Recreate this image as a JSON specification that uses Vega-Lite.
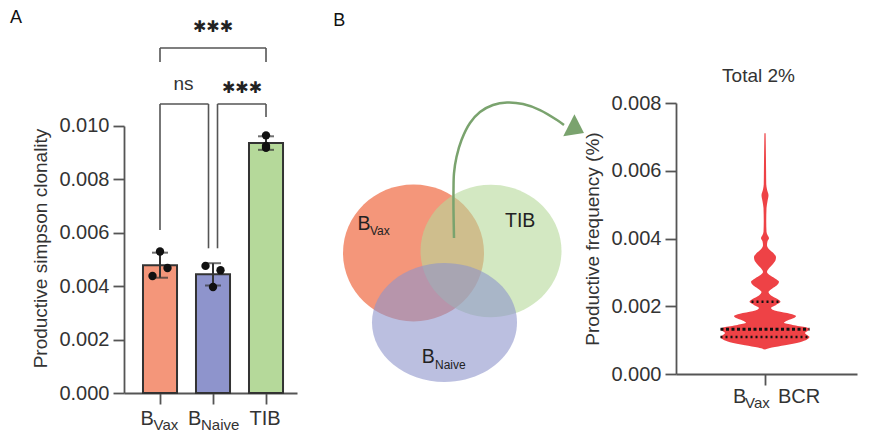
{
  "$schema": "https://vega.github.io/schema/vega-lite/v6.json",
  "background": "white",
  "padding": {"left": 10, "top": 9, "right": 5, "bottom": 5},
  "config": {
    "font": "Liberation Sans",
    "view": {"stroke": null},
    "axis": {"domainColor": "#555", "domainWidth": 1.8, "tickColor": "#555", "tickWidth": 1.8, "tickSize": 11, "labelColor": "#333", "labelFontSize": 20, "labelPadding": 4, "titleColor": "#333", "titleFontSize": 19, "titleFontWeight": "normal", "grid": false},
    "text": {"color": "#333"}
  },
  "datasets": {
    "clonality": [
      {"group": "BVax", "rep": "L", "value": 0.00438},
      {"group": "BVax", "rep": "M", "value": 0.0053},
      {"group": "BVax", "rep": "R", "value": 0.00468},
      {"group": "BNaive", "rep": "L", "value": 0.00476},
      {"group": "BNaive", "rep": "M", "value": 0.00397},
      {"group": "BNaive", "rep": "R", "value": 0.0046},
      {"group": "TIB", "rep": "M", "value": 0.00965},
      {"group": "TIB", "rep": "M", "value": 0.00918},
      {"group": "TIB", "rep": "M", "value": 0.00925}
    ],
    "venn": [
      {"set": "BVax", "X": 3.217, "Y": 4.667},
      {"set": "TIB", "X": 5.8, "Y": 4.733},
      {"set": "BNaive", "X": 4.25, "Y": 2.35}
    ],
    "vennLabels": [
      {"label": "B", "X": 1.35, "Y": 5.433},
      {"label": "TIB", "X": 6.267, "Y": 5.533},
      {"label": "B", "X": 3.49, "Y": 1.0}
    ],
    "vennSubs": [
      {"label": "Vax", "X": 1.767, "Y": 5.267},
      {"label": "Naive", "X": 3.933, "Y": 0.8}
    ],
    "panelLabels": [
      {"label": "A", "X": -10.233, "Y": 12.8},
      {"label": "B", "X": 0.543, "Y": 12.7}
    ],
    "arrow": [
      {"i": 1, "X": 4.567, "Y": 5.167},
      {"i": 2, "X": 4.55, "Y": 6.1},
      {"i": 3, "X": 4.55, "Y": 6.767},
      {"i": 4, "X": 4.567, "Y": 7.333},
      {"i": 5, "X": 4.65, "Y": 7.867},
      {"i": 6, "X": 4.817, "Y": 8.433},
      {"i": 7, "X": 5.1, "Y": 9.0},
      {"i": 8, "X": 5.433, "Y": 9.367},
      {"i": 9, "X": 5.867, "Y": 9.6},
      {"i": 10, "X": 6.333, "Y": 9.683},
      {"i": 11, "X": 6.867, "Y": 9.633},
      {"i": 12, "X": 7.433, "Y": 9.433},
      {"i": 13, "X": 8.0, "Y": 9.1},
      {"i": 14, "X": 8.233, "Y": 8.933}
    ],
    "arrowhead": [{"X": 8.647, "Y": 8.797}],
    "violin": [
      {"freq": 0.00072, "width": 0},
      {"freq": 0.00078, "width": 14},
      {"freq": 0.00085, "width": 40},
      {"freq": 0.00094, "width": 70},
      {"freq": 0.00102, "width": 84},
      {"freq": 0.00109, "width": 89},
      {"freq": 0.00115, "width": 84},
      {"freq": 0.00121, "width": 80},
      {"freq": 0.00127, "width": 85},
      {"freq": 0.00132, "width": 89},
      {"freq": 0.00138, "width": 82},
      {"freq": 0.00145, "width": 55},
      {"freq": 0.00151, "width": 38},
      {"freq": 0.00158, "width": 45},
      {"freq": 0.00165, "width": 58},
      {"freq": 0.00171, "width": 62},
      {"freq": 0.00178, "width": 50},
      {"freq": 0.00185, "width": 25},
      {"freq": 0.00195, "width": 12},
      {"freq": 0.00204, "width": 22},
      {"freq": 0.00213, "width": 31},
      {"freq": 0.00222, "width": 24},
      {"freq": 0.00232, "width": 12},
      {"freq": 0.00242, "width": 7},
      {"freq": 0.00252, "width": 14},
      {"freq": 0.00262, "width": 24},
      {"freq": 0.00272, "width": 28},
      {"freq": 0.00282, "width": 20},
      {"freq": 0.00292, "width": 9},
      {"freq": 0.00301, "width": 4},
      {"freq": 0.00312, "width": 8},
      {"freq": 0.00325, "width": 16},
      {"freq": 0.00336, "width": 21},
      {"freq": 0.00345, "width": 22},
      {"freq": 0.00355, "width": 18},
      {"freq": 0.00368, "width": 8},
      {"freq": 0.0038, "width": 4},
      {"freq": 0.00392, "width": 5},
      {"freq": 0.00401, "width": 8},
      {"freq": 0.0041, "width": 5},
      {"freq": 0.0042, "width": 3},
      {"freq": 0.0045, "width": 2.5},
      {"freq": 0.0049, "width": 3},
      {"freq": 0.0051, "width": 5},
      {"freq": 0.00528, "width": 7},
      {"freq": 0.00545, "width": 4},
      {"freq": 0.0056, "width": 2.5},
      {"freq": 0.006, "width": 2.2},
      {"freq": 0.0065, "width": 1.8},
      {"freq": 0.00711, "width": 1.2}
    ],
    "quartiles": [
      {"stat": "median", "freq": 0.00132, "lo": 0, "hi": 89},
      {"stat": "q1", "freq": 0.00109, "lo": 0, "hi": 89},
      {"stat": "q3", "freq": 0.00213, "lo": 31, "hi": 58}
    ]
  },
  "bounds": "flush",
  "align": "none",
  "spacing": 20,
  "hconcat": [
    {
      "width": 173,
      "height": 290,
      "layer": [
        {
          "data": {"name": "clonality"},
          "mark": {"type": "bar", "stroke": "#333", "strokeWidth": 2},
          "encoding": {
            "x": {"field": "group", "type": "nominal", "scale": {"domain": ["BVax", "BNaive", "TIB"], "paddingInner": 0.358, "paddingOuter": 0.311, "align": 0.576}, "axis": {"labels": false, "title": null, "ticks": true}, "title": null},
            "y": {"aggregate": "mean", "field": "value", "type": "quantitative", "scale": {"domain": [0, 0.010861], "nice": false}, "axis": {"values": [0, 0.002, 0.004, 0.006, 0.008, 0.01], "format": ".3f", "titlePadding": 8, "domainDash": [267, 60]}, "title": "Productive simpson clonality"},
            "color": {"field": "group", "type": "nominal", "scale": {"domain": ["BVax", "BNaive", "TIB"], "range": ["#F4967A", "#8E94CC", "#B5D99A"]}, "legend": null}
          }
        },
        {
          "data": {"name": "clonality"},
          "mark": {"type": "errorbar", "extent": "stdev", "color": "#333", "ticks": {"size": 16, "thickness": 2, "color": "#333"}, "rule": {"strokeWidth": 2, "color": "#333"}},
          "encoding": {
            "x": {"field": "group", "type": "nominal", "title": null},
            "y": {"field": "value", "type": "quantitative", "title": "Productive simpson clonality"}
          }
        },
        {
          "data": {"name": "clonality"},
          "transform": [{"filter": "datum.rep === 'L'"}],
          "mark": {"type": "point", "filled": true, "size": 70, "color": "#111", "opacity": 1, "xOffset": -7.5},
          "encoding": {
            "x": {"field": "group", "type": "nominal", "title": null},
            "y": {"field": "value", "type": "quantitative", "title": "Productive simpson clonality"}
          }
        },
        {
          "data": {"name": "clonality"},
          "transform": [{"filter": "datum.rep === 'M'"}],
          "mark": {"type": "point", "filled": true, "size": 70, "color": "#111", "opacity": 1},
          "encoding": {
            "x": {"field": "group", "type": "nominal", "title": null},
            "y": {"field": "value", "type": "quantitative", "title": "Productive simpson clonality"}
          }
        },
        {
          "data": {"name": "clonality"},
          "transform": [{"filter": "datum.rep === 'R'"}],
          "mark": {"type": "point", "filled": true, "size": 70, "color": "#111", "opacity": 1, "xOffset": 7.5},
          "encoding": {
            "x": {"field": "group", "type": "nominal", "title": null},
            "y": {"field": "value", "type": "quantitative", "title": "Productive simpson clonality"}
          }
        },
        {
          "data": {"values": [{}]},
          "mark": {"type": "rule", "color": "#555", "strokeWidth": 1.6},
          "encoding": {"x": {"datum": "BVax", "title": null}, "x2": {"datum": "TIB"}, "y": {"datum": 0.01292, "title": "Productive simpson clonality"}}
        },
        {
          "data": {"values": [{}]},
          "mark": {"type": "rule", "color": "#555", "strokeWidth": 1.6},
          "encoding": {"x": {"datum": "BVax", "title": null}, "y": {"datum": 0.01292, "title": "Productive simpson clonality"}, "y2": {"datum": 0.0124}}
        },
        {
          "data": {"values": [{}]},
          "mark": {"type": "rule", "color": "#555", "strokeWidth": 1.6},
          "encoding": {"x": {"datum": "TIB", "title": null}, "y": {"datum": 0.01292, "title": "Productive simpson clonality"}, "y2": {"datum": 0.0124}}
        },
        {
          "data": {"values": [{}]},
          "mark": {"type": "rule", "color": "#555", "strokeWidth": 1.6, "x2Offset": -4.5},
          "encoding": {"x": {"datum": "BVax", "title": null}, "x2": {"datum": "BNaive"}, "y": {"datum": 0.010824, "title": "Productive simpson clonality"}}
        },
        {
          "data": {"values": [{}]},
          "mark": {"type": "rule", "color": "#555", "strokeWidth": 1.6},
          "encoding": {"x": {"datum": "BVax", "title": null}, "y": {"datum": 0.010824, "title": "Productive simpson clonality"}, "y2": {"datum": 0.006105}}
        },
        {
          "data": {"values": [{}]},
          "mark": {"type": "rule", "color": "#555", "strokeWidth": 1.6, "xOffset": -4.5},
          "encoding": {"x": {"datum": "BNaive", "title": null}, "y": {"datum": 0.010824, "title": "Productive simpson clonality"}, "y2": {"datum": 0.00542}}
        },
        {
          "data": {"values": [{}]},
          "mark": {"type": "rule", "color": "#555", "strokeWidth": 1.6, "xOffset": 4.5},
          "encoding": {"x": {"datum": "BNaive", "title": null}, "x2": {"datum": "TIB"}, "y": {"datum": 0.010824, "title": "Productive simpson clonality"}}
        },
        {
          "data": {"values": [{}]},
          "mark": {"type": "rule", "color": "#555", "strokeWidth": 1.6, "xOffset": 4.5},
          "encoding": {"x": {"datum": "BNaive", "title": null}, "y": {"datum": 0.010824, "title": "Productive simpson clonality"}, "y2": {"datum": 0.00542}}
        },
        {
          "data": {"values": [{}]},
          "mark": {"type": "rule", "color": "#555", "strokeWidth": 1.6},
          "encoding": {"x": {"datum": "TIB", "title": null}, "y": {"datum": 0.010824, "title": "Productive simpson clonality"}, "y2": {"datum": 0.010337}}
        },
        {
          "data": {"values": [{"label": "✱✱✱"}]},
          "mark": {"type": "text", "font": "DejaVu Sans", "fontSize": 16, "align": "center", "baseline": "middle", "color": "#222"},
          "encoding": {"text": {"field": "label"}, "x": {"datum": "BNaive", "title": null}, "y": {"datum": 0.013719, "title": "Productive simpson clonality"}}
        },
        {
          "data": {"values": [{"label": "✱✱✱"}]},
          "mark": {"type": "text", "font": "DejaVu Sans", "fontSize": 16, "align": "center", "baseline": "middle", "color": "#222", "dx": 29},
          "encoding": {"text": {"field": "label"}, "x": {"datum": "BNaive", "title": null}, "y": {"datum": 0.011423, "title": "Productive simpson clonality"}}
        },
        {
          "data": {"values": [{"label": "ns"}]},
          "mark": {"type": "text", "fontSize": 19, "align": "center", "baseline": "alphabetic", "color": "#333", "dx": -29.5},
          "encoding": {"text": {"field": "label"}, "x": {"datum": "BNaive", "title": null}, "y": {"datum": 0.011348, "title": "Productive simpson clonality"}}
        },
        {
          "data": {"values": [{"label": "B"}]},
          "mark": {"type": "text", "fontSize": 20, "align": "left", "baseline": "alphabetic", "dx": -19.5},
          "encoding": {"text": {"field": "label"}, "x": {"datum": "BVax", "title": null}, "y": {"datum": -0.0011985, "title": "Productive simpson clonality"}}
        },
        {
          "data": {"values": [{"label": "Vax"}]},
          "mark": {"type": "text", "fontSize": 15, "align": "left", "baseline": "alphabetic", "dx": -6.5},
          "encoding": {"text": {"field": "label"}, "x": {"datum": "BVax", "title": null}, "y": {"datum": -0.0013858, "title": "Productive simpson clonality"}}
        },
        {
          "data": {"values": [{"label": "B"}]},
          "mark": {"type": "text", "fontSize": 20, "align": "left", "baseline": "alphabetic", "dx": -25},
          "encoding": {"text": {"field": "label"}, "x": {"datum": "BNaive", "title": null}, "y": {"datum": -0.0011985, "title": "Productive simpson clonality"}}
        },
        {
          "data": {"values": [{"label": "Naive"}]},
          "mark": {"type": "text", "fontSize": 15, "align": "left", "baseline": "alphabetic", "dx": -12},
          "encoding": {"text": {"field": "label"}, "x": {"datum": "BNaive", "title": null}, "y": {"datum": -0.0013858, "title": "Productive simpson clonality"}}
        },
        {
          "data": {"values": [{"label": "TIB"}]},
          "mark": {"type": "text", "fontSize": 20, "align": "center", "baseline": "alphabetic", "dx": -1},
          "encoding": {"text": {"field": "label"}, "x": {"datum": "TIB", "title": null}, "y": {"datum": -0.0011985, "title": "Productive simpson clonality"}}
        }
      ]
    },
    {
      "width": 339,
      "height": 290,
      "encoding": {
        "x": {"field": "X", "type": "quantitative", "scale": {"domain": [0, 11.3], "nice": false, "zero": false}, "axis": null},
        "y": {"field": "Y", "type": "quantitative", "scale": {"domain": [0, 9.667], "nice": false, "zero": false}, "axis": null}
      },
      "layer": [
        {
          "data": {"name": "venn"},
          "transform": [{"filter": "datum.set === 'BVax'"}],
          "mark": {"type": "point", "filled": true, "strokeWidth": 0, "size": 19881, "shape": "M-1,0A1,0.97,0,1,1,1,0A1,0.97,0,1,1,-1,0Z"},
          "encoding": {
            "color": {"field": "set", "type": "nominal", "scale": {"domain": ["BVax", "TIB", "BNaive"], "range": ["#F4967A", "#84C057", "#434DAA"]}, "legend": null},
            "opacity": {"value": 1},
            "fillOpacity": {"value": 1}
          }
        },
        {
          "data": {"name": "venn"},
          "transform": [{"filter": "datum.set === 'TIB'"}],
          "mark": {"type": "point", "filled": true, "strokeWidth": 0, "size": 19881, "shape": "M-1,0A1,0.94,0,1,1,1,0A1,0.94,0,1,1,-1,0Z"},
          "encoding": {
            "color": {"field": "set", "type": "nominal", "legend": null},
            "opacity": {"value": 1},
            "fillOpacity": {"value": 0.6}
          }
        },
        {
          "data": {"name": "venn"},
          "transform": [{"filter": "datum.set === 'BNaive'"}],
          "mark": {"type": "point", "filled": true, "strokeWidth": 0, "size": 21025, "shape": "M-1,0A1,0.82,0,1,1,1,0A1,0.82,0,1,1,-1,0Z"},
          "encoding": {
            "color": {"field": "set", "type": "nominal", "legend": null},
            "opacity": {"value": 1},
            "fillOpacity": {"value": 0.6}
          }
        },
        {
          "data": {"name": "arrow"},
          "mark": {"type": "line", "color": "#7AA36E", "strokeWidth": 2.5, "interpolate": "catmull-rom"},
          "encoding": {"order": {"field": "i", "type": "quantitative"}}
        },
        {
          "data": {"name": "arrowhead"},
          "mark": {"type": "point", "filled": true, "opacity": 1, "color": "#7AA36E", "size": 289, "angle": 27, "shape": "M-1,-1.45L1,0L-1,1.45Z"}
        },
        {
          "data": {"name": "vennLabels"},
          "mark": {"type": "text", "fontSize": 19.5, "align": "left", "baseline": "alphabetic", "color": "#222"},
          "encoding": {"text": {"field": "label"}}
        },
        {
          "data": {"name": "vennSubs"},
          "mark": {"type": "text", "fontSize": 12, "align": "left", "baseline": "alphabetic", "color": "#222"},
          "encoding": {"text": {"field": "label"}}
        },
        {
          "data": {"name": "panelLabels"},
          "mark": {"type": "text", "fontSize": 18, "align": "left", "baseline": "top", "color": "#111"},
          "encoding": {"text": {"field": "label"}}
        }
      ]
    },
    {
      "width": 181,
      "height": 271,
      "layer": [
        {
          "data": {"name": "violin"},
          "mark": {"type": "area", "orient": "horizontal", "interpolate": "monotone", "color": "#EE4246", "opacity": 1},
          "encoding": {
            "y": {"field": "freq", "type": "quantitative", "scale": {"domain": [0, 0.008], "nice": false}, "axis": {"values": [0, 0.002, 0.004, 0.006, 0.008], "format": ".3f", "titlePadding": 8}, "title": "Productive frequency (%)"},
            "x": {"field": "width", "type": "quantitative", "stack": "center", "scale": {"domain": [-44.5, 136.5], "nice": false, "zero": false}, "axis": {"values": [44.5], "labels": false}, "title": null}
          }
        },
        {
          "data": {"name": "quartiles"},
          "transform": [{"filter": "datum.stat === 'median'"}],
          "mark": {"type": "rule", "color": "#111", "strokeWidth": 3, "strokeDash": [3, 2.5]},
          "encoding": {
            "y": {"field": "freq", "type": "quantitative", "title": "Productive frequency (%)"},
            "x": {"field": "lo", "type": "quantitative", "title": null},
            "x2": {"field": "hi"}
          }
        },
        {
          "data": {"name": "quartiles"},
          "transform": [{"filter": "datum.stat !== 'median'"}],
          "mark": {"type": "rule", "color": "#111", "strokeWidth": 2.5, "strokeDash": [2, 3]},
          "encoding": {
            "y": {"field": "freq", "type": "quantitative", "title": "Productive frequency (%)"},
            "x": {"field": "lo", "type": "quantitative", "title": null},
            "x2": {"field": "hi"}
          }
        },
        {
          "data": {"values": [{"label": "Total 2%"}]},
          "mark": {"type": "text", "fontSize": 19, "align": "center", "baseline": "alphabetic", "dx": -6.5},
          "encoding": {"text": {"field": "label"}, "x": {"datum": 44.5, "title": null}, "y": {"datum": 0.00862, "title": "Productive frequency (%)"}}
        },
        {
          "data": {"values": [{"label": "B"}]},
          "mark": {"type": "text", "fontSize": 20, "align": "left", "baseline": "alphabetic", "dx": -32},
          "encoding": {"text": {"field": "label"}, "x": {"datum": 44.5, "title": null}, "y": {"datum": -0.000856, "title": "Productive frequency (%)"}}
        },
        {
          "data": {"values": [{"label": "Vax"}]},
          "mark": {"type": "text", "fontSize": 15, "align": "left", "baseline": "alphabetic", "dx": -20},
          "encoding": {"text": {"field": "label"}, "x": {"datum": 44.5, "title": null}, "y": {"datum": -0.001004, "title": "Productive frequency (%)"}}
        },
        {
          "data": {"values": [{"label": "BCR"}]},
          "mark": {"type": "text", "fontSize": 20, "align": "left", "baseline": "alphabetic", "dx": 13},
          "encoding": {"text": {"field": "label"}, "x": {"datum": 44.5, "title": null}, "y": {"datum": -0.000856, "title": "Productive frequency (%)"}}
        }
      ]
    }
  ]
}
